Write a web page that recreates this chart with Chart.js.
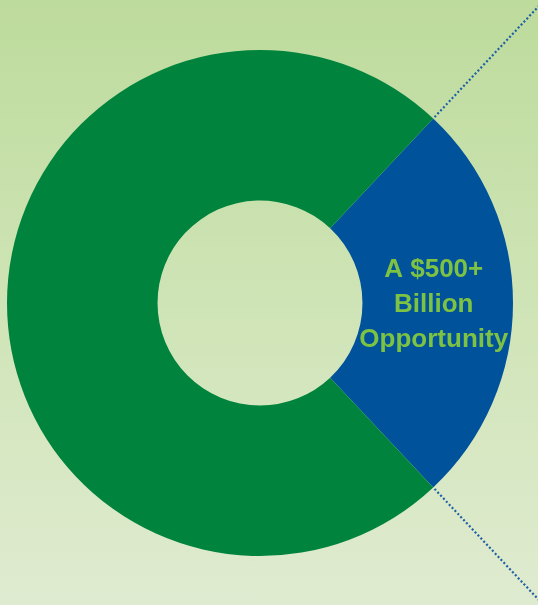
<!DOCTYPE html>
<html>
<head>
<meta charset="utf-8">
<script src="https://cdn.jsdelivr.net/npm/chart.js@4/dist/chart.umd.min.js"></script>
<style>
  html, body { margin: 0; padding: 0; }
  body { width: 538px; height: 605px; overflow: hidden;
         background: linear-gradient(to bottom, #bddb9c 0%, #cfe4b6 50%, #dfebd0 100%); }
  #wrap { position: absolute; left: 0; top: 0; width: 538px; height: 605px; }
</style>
</head>
<body>
<div id="wrap"><canvas id="c" width="538" height="605"></canvas></div>
<script>
const categories = ["A $500+ Billion Opportunity", "Rest of market"];
const values = [26, 74];
const colors = ["#00529b", "#00843d"];
const labelLines = ["A $500+", "Billion", "Opportunity"];

const overlay = {
  id: 'overlay',
  afterDatasetsDraw(chart) {
    const ctx = chart.ctx;
    const arc = chart.getDatasetMeta(0).data[0];
    const { x, y, startAngle, endAngle, innerRadius, outerRadius } = arc.getProps(['x','y','startAngle','endAngle','innerRadius','outerRadius'], true);
    ctx.save();
    // dotted radial extensions
    ctx.strokeStyle = '#1e5fa6';
    ctx.lineWidth = 2.2;
    ctx.setLineDash([2, 2.2]);
    [startAngle, endAngle].forEach(a => {
      ctx.beginPath();
      ctx.moveTo(x + Math.cos(a) * (outerRadius + 2), y + Math.sin(a) * (outerRadius + 2));
      ctx.lineTo(x + Math.cos(a) * (outerRadius + 200), y + Math.sin(a) * (outerRadius + 200));
      ctx.stroke();
    });
    ctx.setLineDash([]);
    // label in slice
    const mid = (startAngle + endAngle) / 2;
    const r = (innerRadius + outerRadius) / 2 - 4;
    const cx = x + Math.cos(mid) * r;
    const cy = y + Math.sin(mid) * r + 1.5;
    ctx.fillStyle = '#7dc242';
    ctx.font = 'bold 26px "Liberation Sans", Arial, sans-serif';
    ctx.textAlign = 'center';
    ctx.textBaseline = 'middle';
    const lh = 35;
    labelLines.forEach((t, i) => {
      ctx.fillText(t, cx, cy + (i - (labelLines.length - 1) / 2) * lh);
    });
    ctx.restore();
  }
};

new Chart(document.getElementById('c'), {
  type: 'doughnut',
  data: {
    labels: categories,
    datasets: [{
      data: values,
      backgroundColor: colors,
      borderWidth: 0,
      hoverOffset: 0
    }]
  },
  options: {
    responsive: false,
    animation: false,
    rotation: 43.2,
    cutout: '40.5%',
    layout: { padding: { left: 7, right: 25, top: 50, bottom: 49 } },
    plugins: { legend: { display: false }, tooltip: { enabled: false } }
  },
  plugins: [overlay]
});
</script>
</body>
</html>
